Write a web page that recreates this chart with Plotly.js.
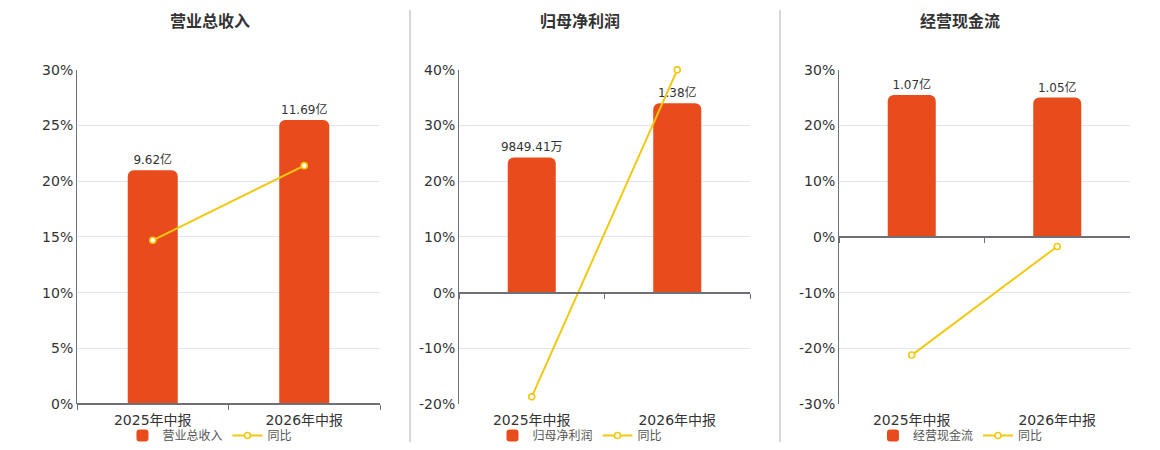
<!DOCTYPE html>
<html>
<head>
<meta charset="utf-8">
<script src="https://cdn.plot.ly/plotly-3.0.1.min.js"></script>
<style>
  html, body { margin: 0; padding: 0; background: #fff; }
  #chart { width: 1160px; height: 450px; }
</style>
</head>
<body>
<div id="chart"></div>
<script>
// 三个小图：柱 = 金额（隐藏轴），线 = 同比（百分比轴）
const categories = ['2025年中报', '2026年中报'];

const titles = ['营业总收入', '归母净利润', '经营现金流'];

// 金额，单位：亿
const revenue = [9.62, 11.69];
const netProfit = [0.984941, 1.38];
const cashFlow = [1.07, 1.05];

const revenueLabels = ['9.62亿', '11.69亿'];
const netProfitLabels = ['9849.41万', '1.38亿'];
const cashFlowLabels = ['1.07亿', '1.05亿'];

// 同比 %
const revenueYoy = [14.7, 21.4];
const netProfitYoy = [-18.7, 40.0];
const cashFlowYoy = [-21.2, -1.7];

// 百分比轴刻度
const revenueTicks = [0, 5, 10, 15, 20, 25, 30];
const netProfitTicks = [-20, -10, 0, 10, 20, 30, 40];
const cashFlowTicks = [-30, -20, -10, 0, 10, 20, 30];

const COLORS = {
  bar: '#e84c1d',
  line: '#f2c811',
  axis: '#6e7079',
  grid: '#e0e6f1',
  text: '#333333',
  legend: '#555555',
  sep: '#b0b0b0',
};

const FONT = 'DejaVu Sans, "Noto Sans CJK SC", sans-serif';

const panels = [
  { bars: revenue, labels: revenueLabels, yoy: revenueYoy, ticks: revenueTicks },
  { bars: netProfit, labels: netProfitLabels, yoy: netProfitYoy, ticks: netProfitTicks },
  { bars: cashFlow, labels: cashFlowLabels, yoy: cashFlowYoy, ticks: cashFlowTicks },
];

const xDomains = [[77 / 1160, 380 / 1160], [459 / 1160, 750 / 1160], [839 / 1160, 1130 / 1160]];
const yDomain = [0.1, 1 - 70 / 450];
const legendX = [0.181, 0.5, 0.828];
const titleX = [0.181, 0.5, 0.828];

const traces = [];
const layout = {
  width: 1160, height: 450,
  margin: { l: 0, r: 0, t: 0, b: 0 },
  paper_bgcolor: '#fff', plot_bgcolor: 'rgba(0,0,0,0)',
  font: { family: FONT, color: COLORS.text, size: 12 },
  hovermode: false,
  annotations: [],
  shapes: [],
};

panels.forEach((p, i) => {
  const n = i + 1;           // 柱子所在的主轴 x{n} / y{n}
  const m = i + 4;           // 折线所在的叠加轴 x{m} / y{m}
  const sfx = (k) => (k === 1 ? '' : String(k));
  const pmin = Math.min(...p.ticks);
  const pmax = Math.max(...p.ticks);

  // 隐藏的金额轴：0 点与百分比轴对齐，最高柱占正半区 85%
  const hi = Math.max(...p.bars) / 0.85;
  const lo = hi * pmin / pmax;
  const zeroPos = yDomain[0] + (yDomain[1] - yDomain[0]) * (-pmin) / (pmax - pmin);

  const legendId = 'legend' + sfx(n);

  traces.push({
    type: 'bar', x: categories, y: p.bars,
    xaxis: 'x' + sfx(n), yaxis: 'y' + sfx(n),
    name: titles[i], legend: legendId,
    width: 0.33,
    marker: { color: COLORS.bar, cornerradius: 6 },
    text: p.labels, textposition: 'outside', cliponaxis: false, constraintext: 'none',
    textfont: { size: 12, color: COLORS.text },
  });
  traces.push({
    type: 'scatter', mode: 'lines+markers', x: categories, y: p.yoy,
    xaxis: 'x' + m, yaxis: 'y' + m,
    name: '同比', legend: legendId, cliponaxis: false,
    line: { color: COLORS.line, width: 2 },
    marker: { color: '#fff', size: 6, line: { color: COLORS.line, width: 1.6 } },
  });

  // 主 x 轴：画在 0 线位置，只有轴线和分隔刻度
  layout['xaxis' + sfx(n)] = {
    domain: xDomains[i], type: 'category', range: [-0.5, 1.5],
    anchor: 'free', position: zeroPos,
    showline: true, linecolor: COLORS.axis, linewidth: 2,
    ticks: 'outside', tickson: 'boundaries', ticklen: 5, tickcolor: COLORS.axis,
    showticklabels: false, showgrid: false, zeroline: false, fixedrange: true,
  };
  layout['yaxis' + sfx(n)] = {
    domain: yDomain, range: [lo, hi], visible: false, fixedrange: true,
  };
  // 叠加轴：类别标签在底部，百分比刻度在左侧
  layout['xaxis' + m] = {
    overlaying: 'x' + sfx(n), anchor: 'y' + m, side: 'bottom',
    type: 'category', range: [-0.5, 1.5],
    showline: false, ticks: '', showgrid: false, zeroline: false, ticklabelstandoff: 6,
    tickfont: { size: 14, color: COLORS.text }, fixedrange: true,
  };
  layout['yaxis' + m] = {
    overlaying: 'y' + sfx(n), anchor: 'x' + sfx(n), side: 'left',
    range: [pmin, pmax], tickmode: 'array',
    tickvals: p.ticks, ticktext: p.ticks.map((v) => `${v}%`),
    showline: true, linecolor: COLORS.axis, linewidth: 1,
    showgrid: true, gridcolor: COLORS.grid, zeroline: false,
    ticks: '', tickfont: { size: 14, color: COLORS.text }, fixedrange: true,
  };

  layout[legendId] = {
    orientation: 'h', x: legendX[i], xanchor: 'center', y: 0.031, yanchor: 'middle',
    font: { size: 12, color: COLORS.legend },
    bgcolor: 'rgba(0,0,0,0)', tracegroupgap: 0,
  };

  layout.annotations.push({
    xref: 'paper', yref: 'paper', x: titleX[i], y: 1 - 22 / 450,
    xanchor: 'center', yanchor: 'middle', showarrow: false,
    text: titles[i], font: { size: 16, color: COLORS.text, weight: 700 },
  });
});

// 面板之间的竖分隔线
[410, 780].forEach((px) => {
  layout.shapes.push({
    type: 'line', xref: 'paper', yref: 'paper',
    x0: px / 1160, x1: px / 1160, y0: 1 - 10 / 450, y1: 1 - 443 / 450,
    line: { color: COLORS.sep, width: 1 },
  });
});

Plotly.newPlot('chart', traces, layout, { displayModeBar: false, staticPlot: true });
</script>
</body>
</html>
